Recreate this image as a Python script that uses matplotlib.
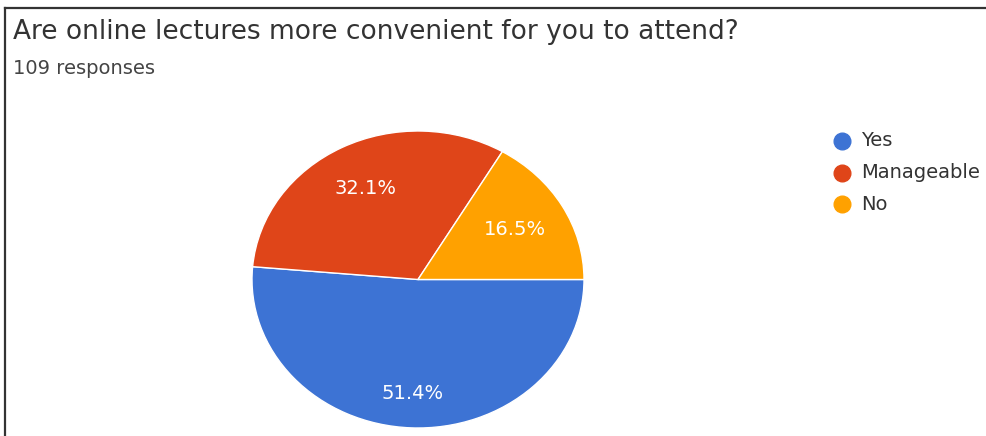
import matplotlib
matplotlib.use("Agg")
import matplotlib.pyplot as plt
from matplotlib.lines import Line2D
import numpy as np

plt.rcParams['font.family'] = ['DejaVu Sans']

# Survey answers
title = "Are online lectures more convenient for you to attend?"
n_responses = 109
labels = ['Yes', 'Manageable', 'No']
counts = [56, 35, 18]
colors = ['#3d73d4', '#df4519', '#ffa100']
label_radius = [0.77, 0.69, 0.675]

W, H = 987, 436
fig = plt.figure(figsize=(W / 100, H / 100), dpi=100)

# Card border (left and top edges)
fig.add_artist(Line2D([5 / W, 5 / W], [0, 1 - 8 / H], color='#333333', lw=1.6))
fig.add_artist(Line2D([5 / W, 1], [1 - 8 / H, 1 - 8 / H], color='#333333', lw=1.6))

fig.text(13 / W, 1 - 32 / H, title, fontsize=19, color='#333333', va='center')
fig.text(13 / W, 1 - 68 / H, f"{n_responses} responses", fontsize=14,
         color='#444444', va='center')

# Pie axes: slightly squashed ellipse
cx, cy, rx, ry = 418, 279.5, 166, 148.5
ax = fig.add_axes([(cx - rx) / W, 1 - (cy + ry) / H, 2 * rx / W, 2 * ry / H])
wedges, _ = ax.pie(counts, colors=colors, startangle=0, counterclock=False,
                   wedgeprops=dict(edgecolor='white', linewidth=1))
ax.set_aspect('auto')
ax.set_xlim(-1, 1)
ax.set_ylim(-1, 1)
ax.axis('off')

# Percentage labels inside each slice
total = sum(counts)
for w, c, r in zip(wedges, counts, label_radius):
    mid = np.deg2rad((w.theta1 + w.theta2) / 2)
    ax.text(r * np.cos(mid), r * np.sin(mid), f"{100 * c / total:.1f}%",
            color='white', fontsize=14, ha='center', va='center')

# Legend
for i, (lab, col) in enumerate(zip(labels, colors)):
    y = 1 - (141 + 31.5 * i) / H
    fig.add_artist(Line2D([842 / W], [y], marker='o', markersize=12,
                          color=col, linestyle='none'))
    fig.text(861 / W, y, lab, fontsize=14, color='#333333', va='center')

fig.savefig('out.png', dpi=100)
